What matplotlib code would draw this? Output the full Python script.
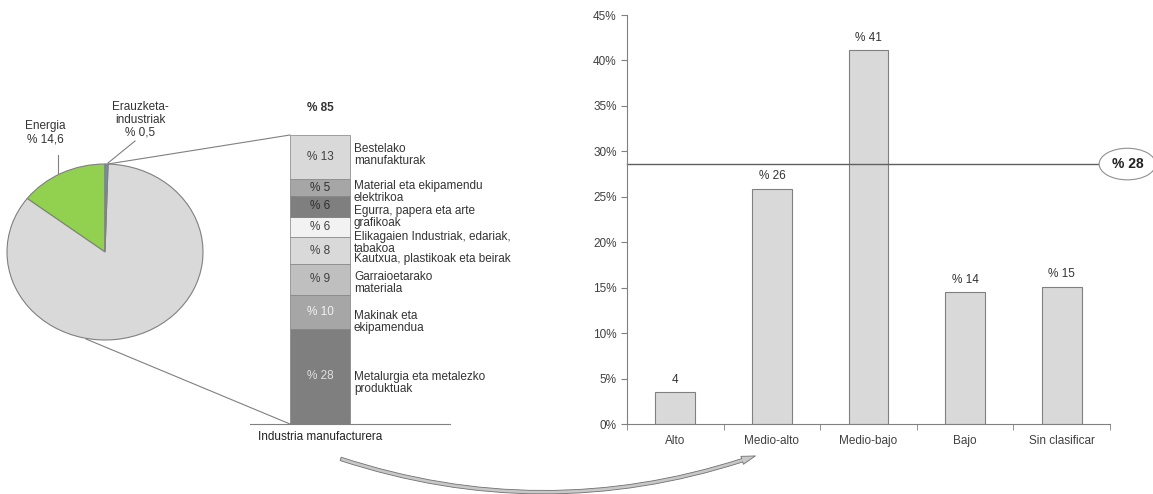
import numpy as np
import matplotlib
matplotlib.use("Agg")
import matplotlib.pyplot as plt
from matplotlib.patches import FancyArrowPatch

plt.rcParams['font.family'] = ['Liberation Sans', 'DejaVu Sans']
plt.rcParams['font.size'] = 8.5

# Pie data
pie_labels = ["Energia\n% 14,6", "Industria manufacturera", "Erauzketa-\nindustriak\n% 0,5"]
pie_values = [14.6, 84.9, 0.5]
pie_colors = ["#92D050", "#D9D9D9", "#6F8FA3"]

# Manufacturing breakdown (bottom to top)
man_values = [28, 10, 9, 8, 6, 6, 5, 13]
man_labels = ["% 28", "% 10", "% 9", "% 8", "% 6", "% 6", "% 5", "% 13"]
man_names = ["Metalurgia eta metalezko\nproduktuak", "Makinak eta\nekipamendua",
             "Garraioetarako\nmateriala", "Kautxua, plastikoak eta beirak",
             "Elikagaien Industriak, edariak,\ntabakoa", "Egurra, papera eta arte\ngrafikoak",
             "Material eta ekipamendu\nelektrikoa", "Bestelako\nmanufakturak"]
man_colors = ["#7F7F7F", "#A6A6A6", "#BFBFBF", "#D9D9D9", "#F2F2F2", "#7F7F7F", "#A6A6A6", "#D9D9D9"]
man_text = ["#E0E0E0", "#F2F2F2", "#404040", "#404040", "#404040", "#303030", "#303030", "#404040"]
man_total = "% 85"

# Technology level bars
tech_cats = ["Alto", "Medio-alto", "Medio-bajo", "Bajo", "Sin clasificar"]
tech_values = [3.5, 25.9, 41.1, 14.5, 15.1]
tech_labels = ["4", "% 26", "% 41", "% 14", "% 15"]
avg_value = 28.6
avg_label = "% 28"

W, H = 1153, 494
fig = plt.figure(figsize=(W / 100, H / 100), dpi=100)


def px_axes(x0, y0, x1, y1, **kw):
    # pixel box (top-left origin) -> figure axes
    ax = fig.add_axes([x0 / W, 1 - y1 / H, (x1 - x0) / W, (y1 - y0) / H], **kw)
    ax.patch.set_visible(False)
    return ax


# --- pie ---
axp = px_axes(7, 164, 203, 340)
axp.pie(pie_values, colors=pie_colors, startangle=90, counterclock=True,
        wedgeprops=dict(edgecolor="#808080", linewidth=0.8))
axp.set_xlim(-1, 1)
axp.set_ylim(-1, 1)
axp.set_aspect("auto")
axp.axis("off")

# --- stacked bar ---
axs = px_axes(250, 135, 450, 424)
bottom = 0
for v, lab, c, tc in zip(man_values, man_labels, man_colors, man_text):
    axs.bar(0, v, width=1, bottom=bottom, color=c, edgecolor="#808080", linewidth=0.5)
    axs.text(0, bottom + v / 2, lab, ha="center", va="center", color=tc, fontsize=8.5)
    bottom += v
axs.set_xlim(-1.167, 2.167)
axs.set_ylim(0, 85)
for s in ["left", "right", "top"]:
    axs.spines[s].set_visible(False)
axs.spines["bottom"].set_color("#808080")
axs.set_yticks([])
axs.set_xticks([0])
axs.set_xticklabels(["Industria manufacturera"], color="#222222")
axs.tick_params(axis="x", length=0, pad=5)
axs.text(0, 93, man_total, ha="center", va="center", fontweight="bold", color="#333333")

# --- bar chart ---
axb = px_axes(627, 15, 1110, 424)
x = np.arange(len(tech_cats))
axb.bar(x, tech_values, width=0.41, color="#D9D9D9", edgecolor="#808080", linewidth=0.8)
for xi, v, lab in zip(x, tech_values, tech_labels):
    axb.text(xi, v + 0.7, lab, ha="center", va="bottom", color="#333333")
axb.set_xlim(-0.5, 4.5)
axb.set_ylim(0, 45)
axb.set_yticks(np.arange(0, 46, 5))
axb.set_yticklabels([f"{t}%" for t in range(0, 46, 5)], color="#404040")
axb.set_xticks(x)
axb.set_xticklabels(tech_cats, color="#404040")
axb.set_xticks(np.arange(-0.5, 4.6, 1), minor=True)
axb.tick_params(axis="x", which="major", length=0, pad=8)
axb.tick_params(axis="x", which="minor", length=4, color="#808080")
axb.tick_params(axis="y", length=4, color="#808080", direction="out")
for s in ["right", "top"]:
    axb.spines[s].set_visible(False)
axb.spines["left"].set_color("#808080")
axb.spines["bottom"].set_color("#808080")

axb.plot([-0.5, 4.407], [avg_value, avg_value], color="#606060", lw=1, clip_on=False)
axb.text(4.68, avg_value, avg_label, ha="center", va="center", fontweight="bold",
         fontsize=10, color="#222222", zorder=5,
         bbox=dict(boxstyle="ellipse,pad=0.3", fc="white", ec="#909090", lw=0.8))

# overlay in pixel coords for labels and connectors
ov = px_axes(0, 0, W, H)
ov.set_zorder(10)
ov.set_xlim(0, W)
ov.set_ylim(H, 0)
ov.axis("off")

ov.text(45, 133, pie_labels[0], ha="center", va="center", color="#333333", fontsize=8.5)
ov.plot([58, 58], [155, 173], color="#808080", lw=0.8)
ov.text(140, 120, pie_labels[2], ha="center", va="center", color="#333333", fontsize=8.5,
        linespacing=1.1)
ov.plot([135, 108], [141, 163], color="#808080", lw=0.8)

# zoom lines
ov.plot([108, 290], [164, 135], color="#808080", lw=0.8)
ov.plot([86, 290], [339, 424], color="#808080", lw=0.8)

name_y = [383, 322, 283, 259, 243, 217, 192, 155]
for name, yp in zip(man_names, name_y):
    ov.text(354, yp, name, ha="left", va="center", color="#333333", fontsize=8.5,
            linespacing=1.05)

# curved arrow
arr = FancyArrowPatch((338, 458), (758, 455), connectionstyle="arc3,rad=0.17",
                      arrowstyle="simple,head_width=6,head_length=10,tail_width=2.5",
                      fc="#C8C8C8", ec="#707070", lw=0.6)
ov.add_patch(arr)

fig.savefig("out.png", dpi=100)
